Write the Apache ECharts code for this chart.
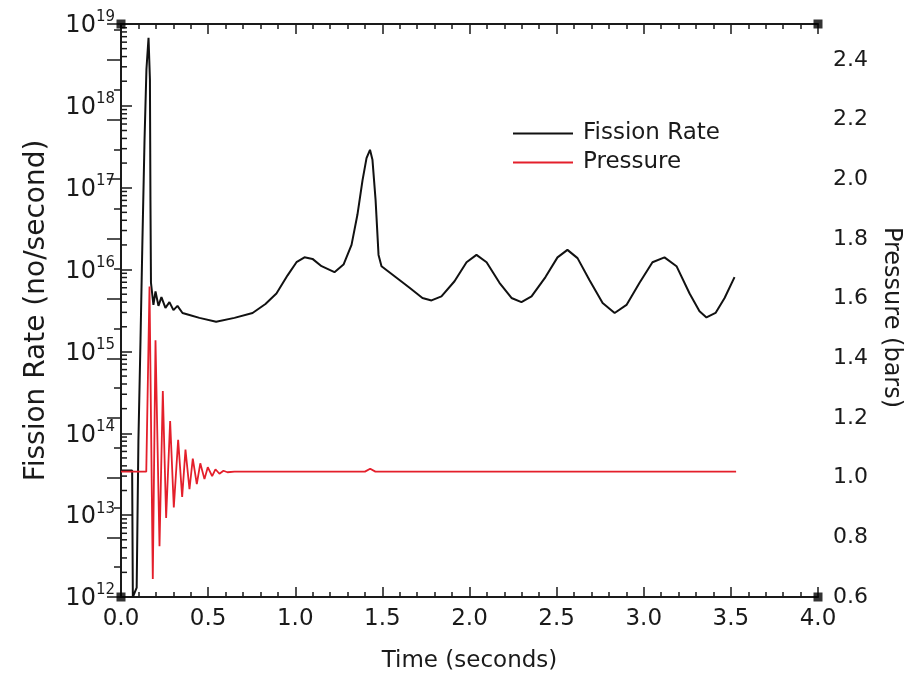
<!DOCTYPE html>
<html>
<head>
<meta charset="utf-8">
<script src="https://cdn.jsdelivr.net/npm/echarts@6/dist/echarts.min.js"></script>
<style>
  html, body { margin: 0; padding: 0; background: #fff; }
  #chart { width: 913px; height: 678px; }
</style>
</head>
<body>
<div id="chart"></div>
<script>
// Fission rate (no/second) against time (s)
const fissionTime = [0, 0.064, 0.068, 0.090, 0.100, 0.112, 0.123, 0.135, 0.146, 0.158, 0.166, 0.169, 0.172,
  0.186, 0.198, 0.215, 0.232, 0.255, 0.278, 0.301, 0.324, 0.353, 0.393, 0.450, 0.546, 0.651, 0.755, 0.829,
  0.892, 0.956, 1.007, 1.053, 1.099, 1.151, 1.225, 1.277, 1.323, 1.357, 1.386, 1.409, 1.429, 1.443, 1.461,
  1.478, 1.495, 1.570, 1.656, 1.730, 1.782, 1.839, 1.914, 1.983, 2.040, 2.098, 2.172, 2.241, 2.298, 2.356,
  2.436, 2.505, 2.562, 2.620, 2.689, 2.764, 2.833, 2.901, 2.976, 3.050, 3.119, 3.188, 3.263, 3.320, 3.360,
  3.412, 3.464, 3.521];
const fissionRate = [3.5e13, 3.5e13, 1.0e12, 1.3e12, 8.3e13, 1.4e15, 2.3e16, 3.8e17, 2.8e18, 6.8e18, 2.1e18, 7.1e16, 6.9e15,
  3.7e15, 5.4e15, 3.6e15, 4.6e15, 3.4e15, 4.0e15, 3.2e15, 3.6e15, 2.95e15, 2.79e15, 2.57e15, 2.31e15, 2.57e15, 2.95e15, 3.8e15,
  5.1e15, 8.5e15, 1.23e16, 1.41e16, 1.35e16, 1.10e16, 9.3e15, 1.15e16, 2.0e16, 4.7e16, 1.23e17, 2.3e17, 2.9e17, 2.2e17, 7.1e16,
  1.51e16, 1.10e16, 8.3e15, 6.0e15, 4.5e15, 4.2e15, 4.7e15, 7.2e15, 1.23e16, 1.51e16, 1.23e16, 6.9e15, 4.5e15, 4.0e15, 4.7e15,
  8.1e15, 1.41e16, 1.74e16, 1.38e16, 7.4e15, 3.9e15, 2.95e15, 3.7e15, 6.9e15, 1.23e16, 1.41e16, 1.10e16, 5.1e15, 3.1e15, 2.6e15,
  2.95e15, 4.5e15, 8.1e15];

// Pressure (bars) against time (s)
const pressureTime = [0, 0.145, 0.1636, 0.1825, 0.198, 0.221, 0.240, 0.259, 0.282, 0.303, 0.328, 0.351, 0.370,
  0.393, 0.412, 0.435, 0.455, 0.479, 0.498, 0.523, 0.542, 0.565, 0.588, 0.611, 0.651, 1.40, 1.43, 1.46, 3.53];
const pressure = [1.02, 1.02, 1.64, 0.66, 1.46, 0.77, 1.29, 0.865, 1.19, 0.90, 1.127, 0.935, 1.094,
  0.961, 1.064, 0.978, 1.048, 0.995, 1.035, 1.005, 1.028, 1.013, 1.023, 1.018, 1.02, 1.02, 1.03, 1.02, 1.02];

// Axis tick labels
const timeTicks = ['0.0', '0.5', '1.0', '1.5', '2.0', '2.5', '3.0', '3.5', '4.0'];
const decadeExponents = [12, 13, 14, 15, 16, 17, 18, 19];
const pressureTicks = ['0.6', '0.8', '1.0', '1.2', '1.4', '1.6', '1.8', '2.0', '2.2', '2.4'];

// Log minor ticks (2..9 within each decade)
const logMinorTicks = [];
for (let e = decadeExponents[0]; e < decadeExponents[decadeExponents.length - 1]; e++) {
  for (let m = 2; m <= 9; m++) logMinorTicks.push(m * Math.pow(10, e));
}
const cornerPoints = [[0, 1e12], [4, 1e12], [0, 1e19], [4, 1e19]];

const FONT = 'DejaVu Sans';
const INK = '#1a1a1a';

const chart = echarts.init(document.getElementById('chart'), null, { renderer: 'canvas' });

const xCommon = {
  type: 'value', min: 0, max: 4, interval: 0.5,
  axisLine: { show: true, onZero: false, lineStyle: { color: INK, width: 2 } },
  axisTick: { show: true, inside: true, length: 10, lineStyle: { color: INK, width: 1.5 } },
  minorTick: { show: true, splitNumber: 5, length: 5, lineStyle: { color: INK, width: 1.5 } },
  splitLine: { show: false }
};

chart.setOption({
  animation: false,
  backgroundColor: '#ffffff',
  textStyle: { fontFamily: FONT },
  grid: { left: 121, right: 95, top: 24, bottom: 81, containLabel: false },
  legend: {
    data: ['Fission Rate', 'Pressure'],
    orient: 'vertical',
    left: 508, top: 117,
    itemWidth: 60, itemHeight: 26, itemGap: 6,
    icon: 'path://M0,12 L60,12 L60,14 L0,14 Z',
    textStyle: { fontFamily: FONT, fontSize: 23, color: INK, padding: [0, 0, 0, 5] }
  },
  xAxis: [
    Object.assign({}, xCommon, {
      position: 'bottom',
      name: 'Time (seconds)', nameLocation: 'middle', nameGap: 53,
      nameTextStyle: { fontFamily: FONT, fontSize: 23, color: INK },
      axisLabel: {
        fontFamily: FONT, fontSize: 23, color: INK, margin: 11,
        formatter: v => timeTicks[Math.round(v / 0.5)]
      }
    }),
    Object.assign({}, xCommon, { position: 'top', axisLabel: { show: false } })
  ],
  yAxis: [
    {
      type: 'log', logBase: 10, min: 1e12, max: 1e19, interval: 1, splitNumber: 7,
      position: 'left',
      name: 'Fission Rate (no/second)', nameLocation: 'middle', nameGap: 70,
      nameTextStyle: { fontFamily: FONT, fontSize: 28, color: INK },
      axisLine: { show: true, lineStyle: { color: INK, width: 2 } },
      axisTick: { show: true, inside: true, length: 11, lineStyle: { color: INK, width: 1.5 } },
      splitLine: { show: false },
      axisLabel: {
        margin: 6,
        formatter: v => {
          const e = Math.round(Math.log10(v));
          return decadeExponents.indexOf(e) >= 0 ? '{b|10}{s|' + e + '}' : '';
        },
        rich: {
          b: { fontFamily: FONT, fontSize: 24, color: INK, lineHeight: 28, verticalAlign: 'bottom' },
          s: { fontFamily: FONT, fontSize: 15, color: INK, lineHeight: 28, verticalAlign: 'top' }
        }
      }
    },
    {
      type: 'value', min: 0.6, max: 2.52, interval: 0.2,
      position: 'right',
      name: 'Pressure (bars)', nameLocation: 'middle', nameGap: 58, nameRotate: -90,
      nameTextStyle: { fontFamily: FONT, fontSize: 24, color: INK, padding: [0, 0, 0, 14] },
      axisLine: { show: true, lineStyle: { color: INK, width: 2 } },
      axisTick: { show: true, inside: true, length: 14, lineStyle: { color: INK, width: 1.5 } },
      minorTick: { show: true, splitNumber: 2, length: 7, lineStyle: { color: INK, width: 1.5 } },
      splitLine: { show: false },
      axisLabel: {
        fontFamily: FONT, fontSize: 22, color: INK, margin: 15, showMaxLabel: false,
        formatter: v => {
          const i = Math.round((v - 0.6) / 0.2);
          return Math.abs(v - (0.6 + i * 0.2)) < 1e-6 ? pressureTicks[i] : '';
        }
      }
    }
  ],
  series: [
    {
      name: 'Fission Rate', type: 'line', xAxisIndex: 0, yAxisIndex: 0,
      data: fissionTime.map((t, i) => [t, fissionRate[i]]),
      symbol: 'none', smooth: false,
      lineStyle: { color: '#111111', width: 2 },
      itemStyle: { color: '#111111' },
      z: 3
    },
    {
      name: 'Pressure', type: 'line', xAxisIndex: 0, yAxisIndex: 1,
      data: pressureTime.map((t, i) => [t, pressure[i]]),
      symbol: 'none', smooth: false,
      lineStyle: { color: '#e41f2b', width: 1.8 },
      itemStyle: { color: '#e41f2b' },
      z: 4
    },
    {
      // minor ticks of the logarithmic axis
      type: 'custom', xAxisIndex: 0, yAxisIndex: 0, silent: true, clip: false,
      data: logMinorTicks.map(v => [0, v]),
      renderItem: (params, api) => {
        const p = api.coord([0, api.value(1)]);
        return {
          type: 'line',
          shape: { x1: p[0], y1: p[1], x2: p[0] + 6, y2: p[1] },
          style: { stroke: INK, lineWidth: 1.5 }
        };
      },
      z: 5
    },
    {
      // corner markers of the frame
      type: 'scatter', xAxisIndex: 0, yAxisIndex: 0, silent: true, clip: false,
      data: cornerPoints, symbol: 'rect', symbolSize: 9,
      itemStyle: { color: '#000000' }, z: 6
    }
  ]
});
</script>
</body>
</html>
